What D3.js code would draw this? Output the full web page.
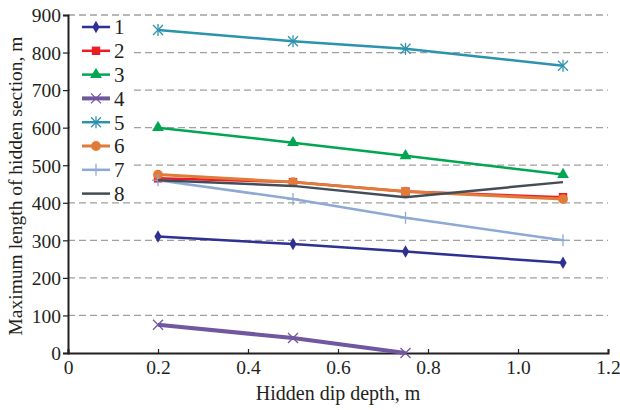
<!DOCTYPE html>
<html>
<head>
<meta charset="utf-8">
<script src="https://cdn.jsdelivr.net/npm/d3@7"></script>
<style>
body { margin: 0; background: #fff; }
text { font-family: "Liberation Serif", "DejaVu Serif", serif; fill: #231f20; }
</style>
</head>
<body>
<div id="chart"></div>
<script>
var width = 620;
var height = 410;

// data
var depths = [0.2, 0.5, 0.75, 1.1];
var names = ["1", "2", "3", "4", "5", "6", "7", "8"];
var s1 = [310, 290, 270, 240];
var s2 = [465, 455, 430, 415];
var s3 = [600, 560, 525, 475];
var s4 = [75, 40, 0];
var s5 = [860, 830, 810, 765];
var s6 = [475, 455, 430, 410];
var s7 = [460, 410, 360, 300];
var s8 = [460, 445, 415, 455];
var xTicks = [0, 0.2, 0.4, 0.6, 0.8, 1.0, 1.2];
var yTicks = [0, 100, 200, 300, 400, 500, 600, 700, 800, 900];

var colors = ["#2e3192", "#ed1c24", "#00a651", "#7156a0", "#2b93ad", "#e07b39", "#8ea9d4", "#434d57"];
var markers = ["diamond", "square", "triangle", "x", "star", "circle", "plus", null];
var widths = [2.5, 2.5, 2.5, 4, 2.5, 3, 2.5, 2.5];

var series = [s1, s2, s3, s4, s5, s6, s7, s8].map(function(vals, i) {
  return {
    name: names[i],
    color: colors[i],
    marker: markers[i],
    lw: widths[i],
    points: vals.map(function(v, j) { return [depths[j], v]; })
  };
});

var margin = {left: 68, right: 12, top: 15, bottom: 57};

var svg = d3.select("#chart").append("svg")
  .attr("width", width)
  .attr("height", height);

var x = d3.scaleLinear().domain([0, 1.2]).range([margin.left, width - margin.right]);
var y = d3.scaleLinear().domain([0, 900]).range([height - margin.bottom, margin.top]);

// gridlines
svg.append("g").selectAll("line")
  .data(yTicks.filter(function(d) { return d > 0; }))
  .enter().append("line")
    .attr("x1", x(0)).attr("x2", x(1.2))
    .attr("y1", function(d) { return y(d); })
    .attr("y2", function(d) { return y(d); })
    .attr("stroke", "#a0a0a0")
    .attr("stroke-width", 1.3)
    .attr("stroke-dasharray", "7,4");

// axes
var xAxis = svg.append("g")
  .attr("transform", "translate(0," + y(0) + ")")
  .call(d3.axisBottom(x).tickValues(xTicks).tickSize(-4).tickPadding(4)
    .tickFormat(function(d) { return d === 0 ? "0" : d3.format(".1f")(d); }));

var yAxis = svg.append("g")
  .attr("transform", "translate(" + x(0) + ",0)")
  .call(d3.axisLeft(y).tickValues(yTicks).tickSize(5).tickPadding(2));

[xAxis, yAxis].forEach(function(a) {
  a.attr("font-family", null).attr("font-size", null);
  a.select(".domain").attr("stroke", "#231f20").attr("stroke-width", 2);
  a.selectAll(".tick line").attr("stroke", "#231f20").attr("stroke-width", 1.2);
  a.selectAll("text").style("font-size", "19.5px").attr("fill", "#231f20");
});
xAxis.selectAll("text").attr("dy", "0.85em");
yAxis.selectAll("text").attr("dy", "0.35em");

// axis titles
svg.append("text")
  .attr("x", 338).attr("y", 400)
  .attr("text-anchor", "middle")
  .style("font-size", "20px")
  .text("Hidden dip depth, m");

svg.append("text")
  .attr("transform", "translate(22," + 186 + ") rotate(-90)")
  .attr("text-anchor", "middle")
  .style("font-size", "19.5px")
  .text("Maximum length of hidden section, m");

// marker drawing
function drawMarker(g, type, color, cx, cy) {
  if (!type) return;
  if (type === "x" || type === "plus" || type === "star") {
    var r = 5;
    var segs = [];
    if (type === "x" || type === "star") segs.push([-r, -r, r, r], [-r, r, r, -r]);
    if (type === "plus" || type === "star") segs.push([0, -r - 1, 0, r + 1]);
    if (type === "plus") segs.push([-r - 1, 0, r + 1, 0]);
    segs.forEach(function(s) {
      g.append("line")
        .attr("x1", cx + s[0]).attr("y1", cy + s[1])
        .attr("x2", cx + s[2]).attr("y2", cy + s[3])
        .attr("stroke", color).attr("stroke-width", 1.3);
    });
    return;
  }
  var symType = {diamond: d3.symbolDiamond, square: d3.symbolSquare, triangle: d3.symbolTriangle, circle: d3.symbolCircle}[type];
  var size = {diamond: 45, square: 70, triangle: 60, circle: 75}[type];
  g.append("path")
    .attr("d", d3.symbol().type(symType).size(size)())
    .attr("transform", "translate(" + cx + "," + cy + ")")
    .attr("fill", color);
}

var line = d3.line()
  .x(function(d) { return x(d[0]); })
  .y(function(d) { return y(d[1]); });

// legend background
svg.append("rect")
  .attr("x", x(0) + 2).attr("y", 18)
  .attr("width", 62).attr("height", 183)
  .attr("fill", "#fff");

series.forEach(function(s) {
  var g = svg.append("g");
  g.append("path")
    .datum(s.points)
    .attr("d", line)
    .attr("fill", "none")
    .attr("stroke", s.color)
    .attr("stroke-width", s.lw);
  s.points.forEach(function(p) {
    drawMarker(g, s.marker, s.color, x(p[0]), y(p[1]));
  });
});

// legend
var legend = svg.append("g");
series.forEach(function(s, i) {
  var ly = 27 + i * 23.8;
  var g = legend.append("g");
  g.append("line")
    .attr("x1", 82).attr("x2", 110)
    .attr("y1", ly).attr("y2", ly)
    .attr("stroke", s.color).attr("stroke-width", s.lw);
  drawMarker(g, s.marker, s.color, 96, ly);
  g.append("text")
    .attr("x", 114).attr("y", ly)
    .attr("dy", "0.35em")
    .style("font-size", "21px")
    .text(s.name);
});
</script>
</body>
</html>
